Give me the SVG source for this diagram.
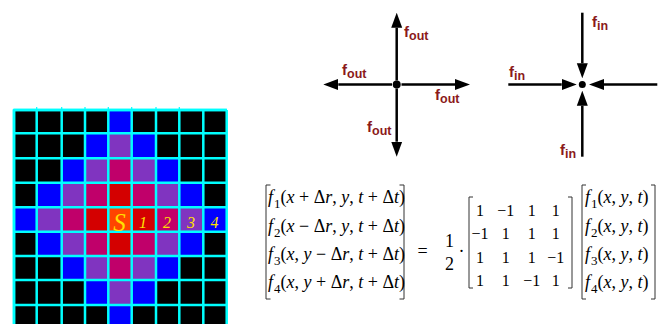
<svg xmlns="http://www.w3.org/2000/svg" width="667" height="324" viewBox="0 0 667 324">
<defs>
<style>
.d0{fill:#FF4400}.d1{fill:#D40000}.d2{fill:#C0006A}.d3{fill:#8034C0}.d4{fill:#0000FF}
.gl{stroke:#00FFFF;stroke-width:2.5;fill:none}
.tk{stroke:#00FFFF;stroke-width:1.2;fill:none}
.gt{font-family:"Liberation Serif",serif;font-style:italic;fill:#FFE000;text-anchor:middle}
.ar{stroke:#000;stroke-width:2.5;fill:none}
.lbl{font-family:"Liberation Sans",Arial,sans-serif;font-weight:bold;fill:#8B1A1A;font-size:15px}
.lbl .s{font-size:12.5px}
.m{font-family:"Liberation Serif","Times New Roman",serif;font-size:18px;fill:#000}
.i{font-style:italic}
.sb{font-size:13px}
.mx{font-family:"Liberation Serif","Times New Roman",serif;font-size:16px;fill:#000;text-anchor:middle}
.br{stroke:#333;stroke-width:1;fill:none}
</style>
<marker id="ah" viewBox="0 -6 15 12" refX="0" refY="0" markerWidth="15" markerHeight="12" markerUnits="userSpaceOnUse" orient="auto">
<path d="M0,-5.5 L15,0 L0,5.5 Z" fill="#000"/>
</marker>
</defs>
<rect width="667" height="324" fill="#fff"/>

<g id="grid">
<rect x="14" y="110" width="212.7" height="220" fill="#000"/>
<!-- row 0 -->
<rect class="d4" x="108.3" y="110" width="23.4" height="23.3"/>
<!-- row 1 -->
<rect class="d4" x="85" y="133.3" width="23.3" height="25"/>
<rect class="d3" x="108.3" y="133.3" width="23.4" height="25"/>
<rect class="d4" x="131.7" y="133.3" width="24.3" height="25"/>
<!-- row 2 -->
<rect class="d4" x="61.7" y="158.3" width="23.3" height="24.4"/>
<rect class="d3" x="85" y="158.3" width="23.3" height="24.4"/>
<rect class="d2" x="108.3" y="158.3" width="23.4" height="24.4"/>
<rect class="d3" x="131.7" y="158.3" width="24.3" height="24.4"/>
<rect class="d4" x="156" y="158.3" width="23.3" height="24.4"/>
<!-- row 3 -->
<rect class="d4" x="36.7" y="182.7" width="25" height="24.6"/>
<rect class="d3" x="61.7" y="182.7" width="23.3" height="24.6"/>
<rect class="d2" x="85" y="182.7" width="23.3" height="24.6"/>
<rect class="d1" x="108.3" y="182.7" width="23.4" height="24.6"/>
<rect class="d2" x="131.7" y="182.7" width="24.3" height="24.6"/>
<rect class="d3" x="156" y="182.7" width="23.3" height="24.6"/>
<rect class="d4" x="179.3" y="182.7" width="24" height="24.6"/>
<!-- row 4 -->
<rect class="d4" x="14" y="207.3" width="22.7" height="24.4"/>
<rect class="d3" x="36.7" y="207.3" width="25" height="24.4"/>
<rect class="d2" x="61.7" y="207.3" width="23.3" height="24.4"/>
<rect class="d1" x="85" y="207.3" width="23.3" height="24.4"/>
<rect class="d0" x="108.3" y="207.3" width="23.4" height="24.4"/>
<rect class="d1" x="131.7" y="207.3" width="24.3" height="24.4"/>
<rect class="d2" x="156" y="207.3" width="23.3" height="24.4"/>
<rect class="d3" x="179.3" y="207.3" width="24" height="24.4"/>
<rect class="d4" x="203.3" y="207.3" width="23.4" height="24.4"/>
<!-- row 5 -->
<rect class="d4" x="36.7" y="231.7" width="25" height="24.3"/>
<rect class="d3" x="61.7" y="231.7" width="23.3" height="24.3"/>
<rect class="d2" x="85" y="231.7" width="23.3" height="24.3"/>
<rect class="d1" x="108.3" y="231.7" width="23.4" height="24.3"/>
<rect class="d2" x="131.7" y="231.7" width="24.3" height="24.3"/>
<rect class="d3" x="156" y="231.7" width="23.3" height="24.3"/>
<rect class="d4" x="179.3" y="231.7" width="24" height="24.3"/>
<!-- row 6 -->
<rect class="d4" x="61.7" y="256" width="23.3" height="24"/>
<rect class="d3" x="85" y="256" width="23.3" height="24"/>
<rect class="d2" x="108.3" y="256" width="23.4" height="24"/>
<rect class="d3" x="131.7" y="256" width="24.3" height="24"/>
<rect class="d4" x="156" y="256" width="23.3" height="24"/>
<!-- row 7 -->
<rect class="d4" x="85" y="280" width="23.3" height="25"/>
<rect class="d3" x="108.3" y="280" width="23.4" height="25"/>
<rect class="d4" x="131.7" y="280" width="24.3" height="25"/>
<!-- row 8 -->
<rect class="d4" x="108.3" y="305" width="23.4" height="25"/>
<path class="gl" d="M14,110 V330 M36.7,110 V330 M61.7,110 V330 M85,110 V330 M108.3,110 V330 M131.7,110 V330 M156,110 V330 M179.3,110 V330 M203.3,110 V330 M226.7,110 V330 M14,110 H226.7 M14,133.3 H226.7 M14,158.3 H226.7 M14,182.7 H226.7 M14,207.3 H226.7 M14,231.7 H226.7 M14,256 H226.7 M14,280 H226.7 M14,305 H226.7"/>
<path class="gl" d="M14,109 V330 M13,110 H227" stroke-width="3"/>
<path class="tk" d="M36.7,107 V110 M61.7,107 V110 M85,107 V110 M108.3,107 V110 M131.7,107 V110 M156,107 V110 M179.3,107 V110"/>
<text class="gt" x="119.5" y="230.5" font-size="25">S</text>
<text class="gt" x="143" y="228" font-size="16">1</text>
<text class="gt" x="167" y="228" font-size="16">2</text>
<text class="gt" x="191" y="228" font-size="16">3</text>
<text class="gt" x="214.5" y="228" font-size="16">4</text>
</g>

<g id="connectors">
<path class="ar" d="M396.7,80.5 V27.7" marker-end="url(#ah)"/>
<path class="ar" d="M396.7,88.5 V141.7" marker-end="url(#ah)"/>
<path class="ar" d="M392,84.5 H338.3" marker-end="url(#ah)"/>
<path class="ar" d="M401.5,84.5 H455" marker-end="url(#ah)"/>
<path class="ar" d="M582.3,12.7 V63.3" marker-end="url(#ah)"/>
<path class="ar" d="M508.3,84.5 H561.7" marker-end="url(#ah)"/>
<path class="ar" d="M657.3,84.5 H604" marker-end="url(#ah)"/>
<path class="ar" d="M582.3,156.7 V105.7" marker-end="url(#ah)"/>
</g>

<g id="node-out">
<circle cx="396.7" cy="84.5" r="4" fill="#000"/>
<text class="lbl" x="404" y="37">f<tspan class="s" dy="3">out</tspan></text>
<text class="lbl" x="342" y="75">f<tspan class="s" dy="3">out</tspan></text>
<text class="lbl" x="435" y="100">f<tspan class="s" dy="3">out</tspan></text>
<text class="lbl" x="367" y="132">f<tspan class="s" dy="3">out</tspan></text>
</g>

<g id="node-in">
<circle cx="582.3" cy="84.5" r="3.5" fill="#000"/>
<text class="lbl" x="592" y="27">f<tspan class="s" dy="3">in</tspan></text>
<text class="lbl" x="509" y="77">f<tspan class="s" dy="3">in</tspan></text>
<text class="lbl" x="560" y="155">f<tspan class="s" dy="3">in</tspan></text>
</g>

<g id="equation">
<path class="br" d="M270.5,185 H266 V299 H270.5"/>
<path class="br" d="M399.5,185 H404 V299 H399.5"/>
<text class="m" x="268" y="203.3"><tspan class="i">f</tspan><tspan class="sb" dx="1" dy="5">1</tspan><tspan dy="-5">(</tspan><tspan class="i">x</tspan> + Δ<tspan class="i">r</tspan>, <tspan class="i">y</tspan>, <tspan class="i">t</tspan> + Δ<tspan class="i">t</tspan>)</text>
<text class="m" x="268" y="231.7"><tspan class="i">f</tspan><tspan class="sb" dx="1" dy="5">2</tspan><tspan dy="-5">(</tspan><tspan class="i">x</tspan> − Δ<tspan class="i">r</tspan>, <tspan class="i">y</tspan>, <tspan class="i">t</tspan> + Δ<tspan class="i">t</tspan>)</text>
<text class="m" x="268" y="260"><tspan class="i">f</tspan><tspan class="sb" dx="1" dy="5">3</tspan><tspan dy="-5">(</tspan><tspan class="i">x</tspan>, <tspan class="i">y</tspan> − Δ<tspan class="i">r</tspan>, <tspan class="i">t</tspan> + Δ<tspan class="i">t</tspan>)</text>
<text class="m" x="268" y="288.3"><tspan class="i">f</tspan><tspan class="sb" dx="1" dy="5">4</tspan><tspan dy="-5">(</tspan><tspan class="i">x</tspan>, <tspan class="i">y</tspan> + Δ<tspan class="i">r</tspan>, <tspan class="i">t</tspan> + Δ<tspan class="i">t</tspan>)</text>
<text class="m" x="417.5" y="257">=</text>
<text class="m" x="449.5" y="246.5" text-anchor="middle">1</text>
<text class="m" x="449.5" y="270" text-anchor="middle">2</text>
<text class="m" x="458.5" y="257">·</text>
<path class="br" d="M473,197 H469 V288 H473"/>
<path class="br" d="M568,197 H572 V288 H568"/>
<text class="mx" x="480" y="216">1</text><text class="mx" x="505.7" y="216">−1</text><text class="mx" x="531.7" y="216">1</text><text class="mx" x="555.7" y="216">1</text>
<text class="mx" x="480" y="239.3">−1</text><text class="mx" x="505.7" y="239.3">1</text><text class="mx" x="531.7" y="239.3">1</text><text class="mx" x="555.7" y="239.3">1</text>
<text class="mx" x="480" y="262.7">1</text><text class="mx" x="505.7" y="262.7">1</text><text class="mx" x="531.7" y="262.7">1</text><text class="mx" x="555.7" y="262.7">−1</text>
<text class="mx" x="480" y="286">1</text><text class="mx" x="505.7" y="286">1</text><text class="mx" x="531.7" y="286">−1</text><text class="mx" x="555.7" y="286">1</text>
<path class="br" d="M586,185 H582 V299 H586"/>
<path class="br" d="M651,185 H655 V299 H651"/>
<text class="m" x="585" y="203.3"><tspan class="i">f</tspan><tspan class="sb" dx="1" dy="5">1</tspan><tspan dy="-5">(</tspan><tspan class="i">x</tspan>, <tspan class="i">y</tspan>, <tspan class="i">t</tspan>)</text>
<text class="m" x="585" y="231.7"><tspan class="i">f</tspan><tspan class="sb" dx="1" dy="5">2</tspan><tspan dy="-5">(</tspan><tspan class="i">x</tspan>, <tspan class="i">y</tspan>, <tspan class="i">t</tspan>)</text>
<text class="m" x="585" y="260"><tspan class="i">f</tspan><tspan class="sb" dx="1" dy="5">3</tspan><tspan dy="-5">(</tspan><tspan class="i">x</tspan>, <tspan class="i">y</tspan>, <tspan class="i">t</tspan>)</text>
<text class="m" x="585" y="288.3"><tspan class="i">f</tspan><tspan class="sb" dx="1" dy="5">4</tspan><tspan dy="-5">(</tspan><tspan class="i">x</tspan>, <tspan class="i">y</tspan>, <tspan class="i">t</tspan>)</text>
</g>
</svg>
